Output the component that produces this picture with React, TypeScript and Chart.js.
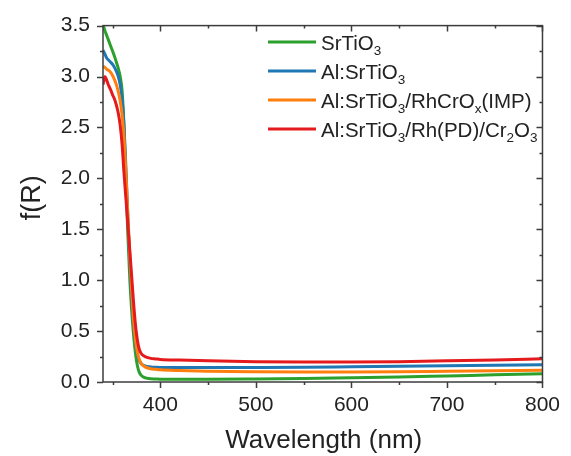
import React, { useEffect, useRef } from 'react';
import { Chart, registerables } from 'chart.js';

Chart.register(...registerables);

const wavelengths = [340, 342, 344, 346, 348, 350, 352, 354, 356, 358, 360, 362, 364, 366, 368, 370, 372, 374, 376, 378, 380, 383, 386, 390, 395, 400, 420, 450, 500, 550, 600, 650, 700, 750, 800];

const srTiO3 = [3.52, 3.45, 3.4, 3.35, 3.3, 3.25, 3.2, 3.14, 3.08, 3.0, 2.86, 2.5, 1.95, 1.45, 1.02, 0.7, 0.46, 0.28, 0.16, 0.095, 0.065, 0.045, 0.037, 0.032, 0.03, 0.028, 0.027, 0.027, 0.03, 0.035, 0.042, 0.05, 0.06, 0.07, 0.08];

const alSrTiO3 = [3.26, 3.22, 3.18, 3.16, 3.14, 3.12, 3.09, 3.05, 3.0, 2.92, 2.78, 2.52, 2.1, 1.62, 1.18, 0.82, 0.55, 0.38, 0.27, 0.21, 0.18, 0.16, 0.152, 0.148, 0.145, 0.143, 0.142, 0.142, 0.143, 0.145, 0.15, 0.155, 0.16, 0.165, 0.17];

const alSrTiO3RhCrOx = [3.1, 3.09, 3.07, 3.06, 3.04, 3.01, 2.97, 2.92, 2.85, 2.76, 2.62, 2.4, 2.05, 1.65, 1.25, 0.9, 0.6, 0.41, 0.29, 0.22, 0.18, 0.155, 0.14, 0.13, 0.125, 0.12, 0.112, 0.105, 0.1, 0.098, 0.098, 0.1, 0.105, 0.11, 0.115];

const alSrTiO3RhCr2O3 = [2.92, 3.0, 2.96, 2.91, 2.87, 2.82, 2.78, 2.72, 2.64, 2.52, 2.33, 2.05, 1.8, 1.55, 1.3, 1.04, 0.78, 0.56, 0.41, 0.32, 0.28, 0.255, 0.242, 0.232, 0.227, 0.222, 0.215, 0.208, 0.2, 0.197, 0.197, 0.2, 0.208, 0.217, 0.228];

const xTickValues = [400, 500, 600, 700, 800];
const yTickValues = [0, 0.5, 1.0, 1.5, 2.0, 2.5, 3.0, 3.5];

const seriesColors = ['#2ca02c', '#1f77b4', '#ff7f0e', '#e41a1c'];
const seriesValues = [srTiO3, alSrTiO3, alSrTiO3RhCrOx, alSrTiO3RhCr2O3];
// legend labels as [text, isSubscript] parts
const seriesLabels: [string, boolean][][] = [
  [['SrTiO', false], ['3', true]],
  [['Al:SrTiO', false], ['3', true]],
  [['Al:SrTiO', false], ['3', true], ['/RhCrO', false], ['x', true], ['(IMP)', false]],
  [['Al:SrTiO', false], ['3', true], ['/Rh(PD)/Cr', false], ['2', true], ['O', false], ['3', true]],
];

const FONT = "'Liberation Sans', Arial, sans-serif";
const TEXT = '#222222';

const framePlugin = {
  id: 'frameTicks',
  afterDatasetsDraw(chart: any) {
    const { ctx, chartArea, scales } = chart;
    const { left, right, top, bottom } = chartArea;
    const x = scales.x;
    const y = scales.y;
    ctx.save();
    ctx.strokeStyle = '#3c3c3c';
    ctx.lineWidth = 1.5;
    ctx.strokeRect(left, top, right - left, bottom - top);
    ctx.beginPath();
    for (let v = 350; v <= 800; v += 50) {
      const px = Math.round(x.getPixelForValue(v)) + 0.5;
      const major = v % 100 === 0;
      const len = major ? 6 : 3;
      ctx.moveTo(px, bottom);
      ctx.lineTo(px, bottom + len);
      ctx.moveTo(px, top);
      ctx.lineTo(px, top + len);
    }
    for (let i = 0; i <= 14; i++) {
      const v = i * 0.25;
      const py = Math.round(y.getPixelForValue(v)) + 0.5;
      const major = i % 2 === 0;
      const len = major ? 6 : 3;
      ctx.moveTo(left - len, py);
      ctx.lineTo(left, py);
      ctx.moveTo(right - len, py);
      ctx.lineTo(right, py);
    }
    ctx.stroke();
    ctx.restore();
  },
  afterDraw(chart: any) {
    const { ctx, chartArea } = chart;
    const { left, right, top, bottom } = chartArea;
    ctx.save();
    // Legend
    const lx0 = 268;
    const lx1 = 316;
    const tx = 321;
    const rowY = [42, 71, 100, 129];
    seriesLabels.forEach((parts, i) => {
      const yy = rowY[i];
      ctx.strokeStyle = seriesColors[i];
      ctx.lineWidth = 3;
      ctx.beginPath();
      ctx.moveTo(lx0, yy);
      ctx.lineTo(lx1, yy);
      ctx.stroke();
      let cx = tx;
      ctx.fillStyle = TEXT;
      ctx.textBaseline = 'alphabetic';
      ctx.textAlign = 'left';
      for (const [t, sub] of parts) {
        if (sub) {
          ctx.font = `13.5px ${FONT}`;
          ctx.fillText(t, cx, yy + 13);
        } else {
          ctx.font = `20.5px ${FONT}`;
          ctx.fillText(t, cx, yy + 8);
        }
        cx += ctx.measureText(t).width;
      }
    });
    // Axis titles
    ctx.fillStyle = TEXT;
    ctx.font = `26px ${FONT}`;
    ctx.textAlign = 'center';
    ctx.textBaseline = 'alphabetic';
    ctx.fillText('Wavelength (nm)', (left + right) / 2 + 1, 448);
    ctx.save();
    ctx.translate(40, (top + bottom) / 2 - 6);
    ctx.rotate(-Math.PI / 2);
    ctx.font = `27px ${FONT}`;
    ctx.fillText('f(R)', 0, 0);
    ctx.restore();
    ctx.restore();
  },
};

export default function App() {
  const canvasRef = useRef<HTMLCanvasElement | null>(null);

  useEffect(() => {
    if (!canvasRef.current) return;
    const datasets = seriesValues.map((vals, i) => ({
      label: seriesLabels[i].map((p) => p[0]).join(''),
      data: wavelengths.map((w, k) => ({ x: w, y: vals[k] })),
      borderColor: seriesColors[i],
      backgroundColor: seriesColors[i],
      borderWidth: 3,
      pointRadius: 0,
      cubicInterpolationMode: 'monotone' as const,
      order: 3 - i,
    }));
    const chart = new Chart(canvasRef.current, {
      type: 'line',
      data: { datasets },
      options: {
        responsive: false,
        animation: false,
        layout: { padding: { left: 0, right: 23, top: 24, bottom: 0 } },
        plugins: { legend: { display: false }, tooltip: { enabled: false } },
        scales: {
          x: {
            type: 'linear',
            min: 340,
            max: 800,
            afterBuildTicks: (scale: any) => {
              scale.ticks = xTickValues.map((v) => ({ value: v }));
            },
            afterFit: (scale: any) => {
              scale.height = 74;
            },
            grid: { display: false, drawTicks: false },
            border: { display: false },
            ticks: {
              padding: 11,
              color: TEXT,
              font: { family: FONT, size: 21 },
              maxRotation: 0,
            },
          },
          y: {
            type: 'linear',
            min: 0,
            max: 3.5,
            afterBuildTicks: (scale: any) => {
              scale.ticks = yTickValues.map((v) => ({ value: v }));
            },
            afterFit: (scale: any) => {
              scale.width = 103;
            },
            grid: { display: false, drawTicks: false },
            border: { display: false },
            ticks: {
              padding: 13,
              color: TEXT,
              font: { family: FONT, size: 21 },
              callback: (v: any) => Number(v).toFixed(1),
            },
          },
        },
      },
      plugins: [framePlugin],
    });
    return () => chart.destroy();
  }, []);

  return (
    <div style={{ position: 'fixed', left: 0, top: 0, width: 571, height: 456, background: '#fff' }}>
      <canvas ref={canvasRef} width={571} height={456} style={{ display: 'block' }} />
    </div>
  );
}
